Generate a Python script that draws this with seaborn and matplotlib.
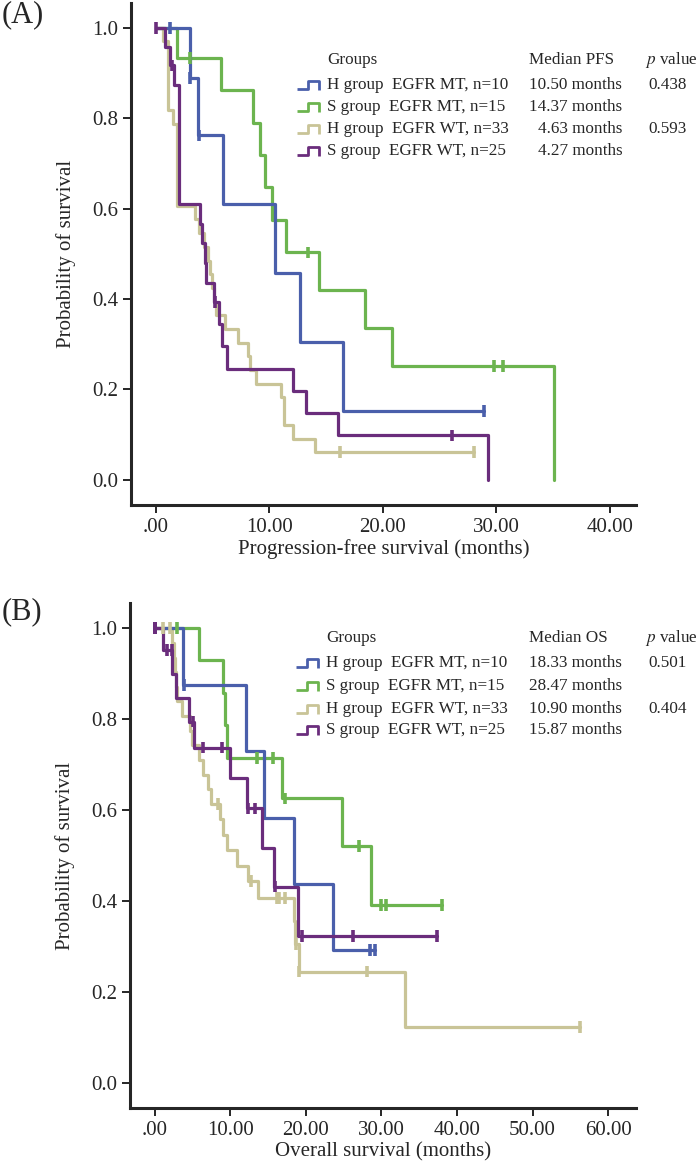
import numpy as np
import pandas as pd
import matplotlib.pyplot as plt
from matplotlib.path import Path
import seaborn as sns

# ---------------- (A) progression-free survival ----------------
# step times (months), survival after each step, censor times
pfs_hmt_t = [2.96, 3.7, 5.9, 10.5, 12.7, 16.5]
pfs_hmt_s = [0.889, 0.762, 0.610, 0.457, 0.305, 0.152]
pfs_hmt_c = [1.2, 3.0, 3.8, 28.9]

pfs_smt_t = [1.9, 5.76, 8.55, 9.2, 9.6, 10.2, 11.5, 14.4, 18.4, 20.8, 35.06]
pfs_smt_s = [0.933, 0.862, 0.790, 0.718, 0.647, 0.575, 0.503, 0.419, 0.335, 0.251, 0.0]
pfs_smt_c = [3.0, 13.4, 29.8, 30.6]

pfs_hwt_t = [0.6, 1.05, 1.5, 1.9, 3.4, 3.8, 4.2, 4.63, 4.8, 4.9, 5.1, 5.3,
             6.05, 7.2, 8.1, 8.25, 8.85, 11.05, 11.25, 12.1, 14.0]
pfs_hwt_s = [0.970, 0.818, 0.788, 0.606, 0.576, 0.545, 0.515, 0.485, 0.455, 0.424, 0.394, 0.364,
             0.333, 0.303, 0.273, 0.242, 0.212, 0.182, 0.121, 0.091, 0.061]
pfs_hwt_c = [16.2, 28.0]

pfs_swt_t = [0.8, 1.2, 1.6, 2.0, 3.9, 4.1, 4.3, 4.4, 5.1, 5.6, 5.85, 6.25, 12.1, 13.2, 16.0, 29.3]
pfs_swt_s = [0.958, 0.917, 0.873, 0.611, 0.567, 0.524, 0.480, 0.436, 0.393, 0.344, 0.295, 0.245,
             0.196, 0.147, 0.098, 0.0]
pfs_swt_c = [0.0, 1.4, 5.2, 26.1]

# ---------------- (B) overall survival ----------------
os_hmt_t = [3.8, 12.1, 14.5, 18.4, 23.6]
os_hmt_s = [0.875, 0.729, 0.583, 0.4375, 0.292]
os_hmt_c = [0.0, 0.0, 3.9, 28.5, 29.1]

os_smt_t = [5.86, 9.1, 9.35, 9.6, 16.9, 24.8, 28.6]
os_smt_s = [0.929, 0.857, 0.786, 0.714, 0.625, 0.521, 0.391]
os_smt_c = [3.0, 13.5, 15.6, 17.2, 27.1, 29.9, 30.6, 38.0]

os_hwt_t = [2.35, 2.55, 2.7, 2.85, 3.0, 3.6, 4.7, 4.9, 5.8, 6.4, 7.1, 7.5,
            8.6, 9.1, 9.6, 10.9, 12.3, 13.7, 18.4, 18.55, 19.05, 33.1]
os_hwt_s = [0.968, 0.935, 0.903, 0.871, 0.839, 0.806, 0.774, 0.742, 0.710, 0.677, 0.645, 0.613,
            0.579, 0.545, 0.511, 0.477, 0.443, 0.406, 0.355, 0.305, 0.244, 0.122]
os_hwt_c = [1.06, 2.0, 8.4, 12.7, 16.2, 16.5, 17.2, 18.65, 19.15, 28.1, 56.3]

os_swt_t = [1.05, 2.3, 2.8, 4.6, 5.15, 9.96, 12.2, 14.2, 15.85, 18.9]
os_swt_s = [0.952, 0.899, 0.846, 0.794, 0.737, 0.670, 0.603, 0.517, 0.431, 0.323]
os_swt_c = [0.0, 0.0, 0.0, 0.0, 1.6, 2.25, 5.05, 6.4, 8.9, 12.3, 13.3, 15.95, 19.5, 26.2, 37.4]

groups = ['H group  EGFR MT, n=10', 'S group  EGFR MT, n=15',
          'H group  EGFR WT, n=33', 'S group  EGFR WT, n=25']
colors = ['#4a5fab', '#6cb44f', '#c9c497', '#6a2d7c']
pfs_median = ['10.50 months', '14.37 months', '4.63 months', '4.27 months']
os_median = ['18.33 months', '28.47 months', '10.90 months', '15.87 months']
pfs_p = ['0.438', '', '0.593', '']
os_p = ['0.501', '', '0.404', '']
pfs_xticks = [0, 10, 20, 30, 40]
pfs_xlabels = ['.00', '10.00', '20.00', '30.00', '40.00']
os_xticks = [0, 10, 20, 30, 40, 50, 60]
os_xlabels = ['.00', '10.00', '20.00', '30.00', '40.00', '50.00', '60.00']
yticks = [0.0, 0.2, 0.4, 0.6, 0.8, 1.0]
ylabels = ['0.0', '0.2', '0.4', '0.6', '0.8', '1.0']

sns.set_style('ticks')
plt.rcParams['font.family'] = ['Liberation Serif', 'DejaVu Serif']
plt.rcParams['mathtext.fontset'] = 'stix'

palette = dict(zip(groups, colors))
draw_order = [groups[2], groups[1], groups[0], groups[3]]


def curve_frame(times, surv, censors, name):
    t = [0.0] + list(times)
    s = [1.0] + list(surv)
    if censors and max(censors) > t[-1]:
        t.append(max(censors))
        s.append(s[-1])
    return pd.DataFrame({'time': t, 'surv': s, 'group': name})


def censor_frame(times, surv, censors, name):
    idx = np.searchsorted(times, censors, side='right')
    lev = np.r_[1.0, surv][idx]
    return pd.DataFrame({'time': censors, 'surv': lev, 'group': name})


step_icon = Path([(-11.5, -4), (0, -4), (0, 4), (11.5, 4), (11.5, -5)],
                 [Path.MOVETO, Path.LINETO, Path.LINETO, Path.LINETO, Path.LINETO])


def km_panel(ax, series, xlim, xticks, xlabels, xlabel, med_head, medians, pvals, rows):
    lines = pd.concat([curve_frame(*s, g) for s, g in zip(series, groups)])
    cens = pd.concat([censor_frame(*s, g) for s, g in zip(series, groups)])
    sns.lineplot(data=lines, x='time', y='surv', hue='group', hue_order=draw_order,
                 palette=palette, estimator=None, sort=False, drawstyle='steps-post',
                 linewidth=2.3, legend=False, ax=ax)
    sns.scatterplot(data=cens, x='time', y='surv', hue='group', hue_order=draw_order,
                    palette=palette, marker='|', s=70, linewidth=2.6, legend=False,
                    ax=ax, zorder=4)
    ax.set_xlim(*xlim)
    ax.set_ylim(-0.056, 1.055)
    ax.set_xticks(xticks)
    ax.set_xticklabels(xlabels)
    ax.set_yticks(yticks)
    ax.set_yticklabels(ylabels)
    ax.set_xlabel(xlabel, fontsize=15, labelpad=2)
    ax.set_ylabel('Probability of survival', fontsize=15)
    ax.tick_params(labelsize=15, length=6, width=1.4, direction='out', pad=3)
    sns.despine(ax=ax)
    for sp in ['left', 'bottom']:
        ax.spines[sp].set_linewidth(2.2)
    ax.yaxis.set_label_coords(-0.108, 0.5)

    fs = 12.3
    head_y, row_y = rows[0], rows[1:]
    ax.text(0.388, head_y, 'Groups', transform=ax.transAxes, fontsize=fs, va='center')
    ax.text(0.789, head_y, med_head, transform=ax.transAxes, fontsize=fs, va='center')
    ax.text(1.018, head_y, r'$p$ value', transform=ax.transAxes, fontsize=fs, va='center',
            clip_on=False)
    for g, c, m, p, y in zip(groups, colors, medians, pvals, row_y):
        ax.plot([0.35], [y], transform=ax.transAxes, marker=step_icon, ms=16.5,
                mfc='none', mec=c, mew=2.0, linestyle='none', clip_on=False)
        ax.text(0.388, y, g, transform=ax.transAxes, fontsize=fs, va='center')
        ax.text(0.973, y, m, transform=ax.transAxes, fontsize=fs, va='center', ha='right')
        if p:
            ax.text(1.024, y, p, transform=ax.transAxes, fontsize=fs, va='center',
                    clip_on=False)


fig = plt.figure(figsize=(7, 11.75), dpi=100)
ax1 = fig.add_axes([0.1871, 0.5702, 0.7214, 0.4272])
ax2 = fig.add_axes([0.1857, 0.0570, 0.7229, 0.4298])

pfs_series = [(pfs_hmt_t, pfs_hmt_s, pfs_hmt_c), (pfs_smt_t, pfs_smt_s, pfs_smt_c),
              (pfs_hwt_t, pfs_hwt_s, pfs_hwt_c), (pfs_swt_t, pfs_swt_s, pfs_swt_c)]
os_series = [(os_hmt_t, os_hmt_s, os_hmt_c), (os_smt_t, os_smt_s, os_smt_c),
             (os_hwt_t, os_hwt_s, os_hwt_c), (os_swt_t, os_swt_s, os_swt_c)]

km_panel(ax1, pfs_series, (-2.2, 42.3), pfs_xticks, pfs_xlabels,
         'Progression-free survival (months)', 'Median PFS', pfs_median, pfs_p,
         [0.886, 0.837, 0.792, 0.749, 0.706])
km_panel(ax2, os_series, (-3.27, 63.7), os_xticks, os_xlabels,
         'Overall survival (months)', 'Median OS', os_median, os_p,
         [0.930, 0.881, 0.836, 0.791, 0.749])

fig.text(0.002, 1 - 15 / 1175, '(A)', fontsize=22, va='center', ha='left')
fig.text(0.002, 1 - 612 / 1175, '(B)', fontsize=22, va='center', ha='left')

fig.savefig('out.png', dpi=100)
